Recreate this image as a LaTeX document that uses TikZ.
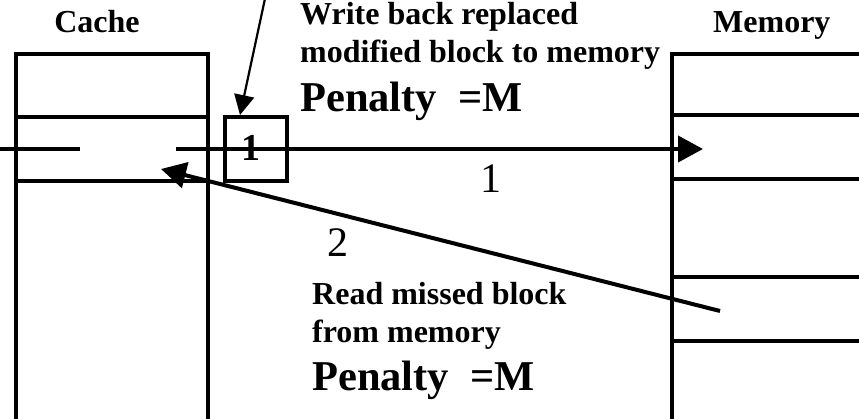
\documentclass[tikz,border=0pt]{standalone}
\usepackage{fontspec}
\setmainfont{Liberation Serif}
\usetikzlibrary{arrows.meta}
\begin{document}
\begin{tikzpicture}[x=1pt,y=-1pt,
  wall/.style={line width=4pt},
  lbl/.style={font=\bfseries\fontsize{32}{38}\selectfont, inner sep=0pt, anchor=base west},
  pen/.style={font=\bfseries\fontsize{42.5}{48}\selectfont, inner sep=0pt, anchor=base west},
  num/.style={font=\fontsize{42}{48}\selectfont, inner sep=0pt},
  bigtip/.style={-{Triangle[length=25pt,width=26pt]}},
  smalltip/.style={-{Triangle[length=20pt,width=20pt]}},
]
\useasboundingbox (0,0) rectangle (859,419);
% cache
\draw[wall, line join=miter] (16,430) -- (16,54) -- (208,54) -- (208,430);
\draw[wall] (16,117) -- (208,117) (16,181) -- (208,181);
% memory
\draw[wall, line join=miter] (672,430) -- (672,54) -- (870,54);
\draw[wall] (672,115) -- (870,115) (672,179) -- (870,179)
            (672,277.5) -- (870,277.5) (672,341) -- (870,341);
% labels
\node[lbl, anchor=base] (cache) at (97,33) {Cache};
\node[lbl] (mem) at (713,33) {Memory};
\node[lbl] (wb1) at (300,25) {Write back replaced};
\node[lbl] (wb2) at (300,63) {modified block to memory};
\node[pen] (pen1) at (300,112) {Penalty~~=M};
\node[lbl] (rd1) at (312,305) {Read missed block};
\node[lbl] (rd2) at (312,342) {from memory};
\node[pen] (pen2) at (312,390) {Penalty~~=M};
\node[num] (n1) at (491,179) {1};
\node[num] (n2) at (338,243) {2};
% coordinates
\coordinate (lineL0) at (0,149);
\coordinate (lineL1) at (80,149);
\coordinate (lineR0) at (176,149);
\coordinate (memtip) at (703,149);
\coordinate (readsrc) at (720,311);
\coordinate (cachetip) at (161,169);
\coordinate (topsrc) at (266,-6);
\coordinate (boxtip) at (240,115);
% write-back arrow
\draw[wall] (lineL0) -- (lineL1);
\draw[wall, bigtip] (lineR0) -- (memtip);
% box
\node[wall, draw, minimum width=62pt, minimum height=64pt, inner sep=0pt] (box) at (256,149) {};
\node[font=\bfseries\fontsize{38}{44}\selectfont, inner sep=0pt] (boxlbl) at (251,148) {1};
% read arrow
\draw[wall, bigtip] (readsrc) -- (cachetip);
% top arrow
\draw[line width=2.2pt, smalltip] (topsrc) -- (boxtip);
\end{tikzpicture}
\end{document}
